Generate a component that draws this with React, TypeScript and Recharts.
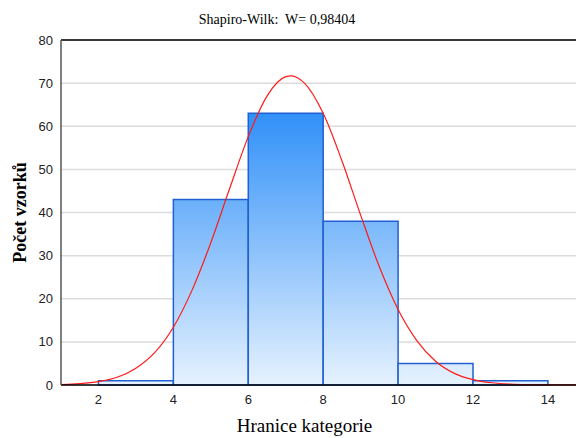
import { ComposedChart, Line, XAxis, YAxis, CartesianGrid, ReferenceArea, ReferenceLine } from "recharts"

// histogram bins
const binStart = [2, 4, 6, 8, 10, 12]
const binEnd = [4, 6, 8, 10, 12, 14]
const counts = [1, 43, 63, 38, 5, 1]

// fitted normal curve
const curveX = [1, 1.5, 2, 2.5, 3, 3.5, 4, 4.5, 5, 5.5, 6, 6.5, 7, 7.15, 7.5, 8, 8.5, 9, 9.5, 10, 10.5, 11, 11.5, 12, 12.5, 13, 13.5, 14, 14.5, 14.75]
const curveY = [0.12, 0.32, 0.8, 1.8, 3.9, 7.5, 13.4, 22, 33, 45.5, 57.6, 67, 71.5, 71.7, 70, 63, 52, 39.4, 27.4, 17.5, 10.3, 5.5, 2.7, 1.25, 0.52, 0.2, 0.07, 0.02, 0.01, 0.01]

const xTicks = [2, 4, 6, 8, 10, 12, 14]
const yTicks = [0, 10, 20, 30, 40, 50, 60, 70, 80]

const title = "Shapiro-Wilk:  W= 0,98404"
const xLabel = "Hranice  kategorie"
const yLabel = "Počet vzorků"

const curveData = curveX.map((x, i) => ({ x, y: curveY[i] }))

export default function App() {
    return (
        <div style={{ position: "absolute", left: 0, top: 0, width: 576, height: 438, background: "#fff" }}>
            <div
                style={{
                    position: "absolute",
                    left: 277,
                    top: 12,
                    transform: "translateX(-50%)",
                    fontFamily: "'Liberation Serif', serif",
                    fontSize: 14,
                    whiteSpace: "pre",
                    color: "#000",
                }}
            >
                {title}
            </div>
            <ComposedChart width={576} height={438} data={curveData} margin={{ top: 40, right: 0, bottom: 0, left: 0 }}>
                <defs>
                    <linearGradient id="barFill" gradientUnits="userSpaceOnUse" x1="0" y1="112" x2="0" y2="385">
                        <stop offset="0%" stopColor="#3090f8" />
                        <stop offset="100%" stopColor="#e6f2fe" />
                    </linearGradient>
                </defs>
                <CartesianGrid vertical={false} stroke="#dcdcdc" strokeWidth={1.5} />
                <XAxis
                    dataKey="x"
                    type="number"
                    domain={[1, 14.75]}
                    ticks={xTicks}
                    allowDataOverflow
                    height={53}
                    tickLine={false}
                    axisLine={{ stroke: "#000", strokeWidth: 1.5 }}
                    tick={{ fill: "#222", fontSize: 13, fontFamily: "'Liberation Sans', Arial, sans-serif" }}
                    tickMargin={4}
                    label={{
                        value: xLabel,
                        position: "insideBottom",
                        offset: 6,
                        dx: -14,
                        style: { fontFamily: "'Liberation Serif', serif", fontSize: 19, fill: "#000", whiteSpace: "pre" },
                    }}
                />
                <YAxis
                    type="number"
                    domain={[0, 80]}
                    ticks={yTicks}
                    width={61}
                    tickLine={false}
                    axisLine={{ stroke: "#555", strokeWidth: 1.5 }}
                    tick={{ fill: "#222", fontSize: 13, fontFamily: "'Liberation Sans', Arial, sans-serif" }}
                    label={{
                        value: yLabel,
                        angle: -90,
                        position: "insideLeft",
                        offset: 20,
                        style: { textAnchor: "middle", fontFamily: "'Liberation Serif', serif", fontSize: 18, fontWeight: "bold", fill: "#000" },
                    }}
                />
                {counts.map((c, i) => (
                    <ReferenceArea
                        key={i}
                        x1={binStart[i]}
                        x2={binEnd[i]}
                        y1={0}
                        y2={c}
                        fill="url(#barFill)"
                        fillOpacity={1}
                        stroke="#2160d2"
                        strokeWidth={1.5}
                        ifOverflow="visible"
                    />
                ))}
                <ReferenceLine y={80} stroke="#000" strokeWidth={1.5} />
                <Line dataKey="y" type="monotone" stroke="#ff1a1a" strokeWidth={1.2} dot={false} isAnimationActive={false} />
            </ComposedChart>
        </div>
    )
}
